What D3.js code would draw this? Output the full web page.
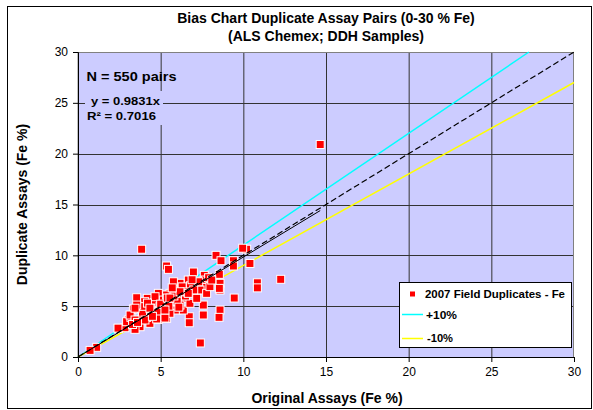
<!DOCTYPE html>
<html><head><meta charset="utf-8">
<script src="https://cdn.jsdelivr.net/npm/d3@7"></script>
<style>body{margin:0;background:#fff}svg{display:block;font-family:"Liberation Sans",Arial,sans-serif}</style>
</head><body>
<svg id="c" width="593" height="410"></svg>
<script>
const xTicks=[0,5,10,15,20,25,30];
const yTicks=[0,5,10,15,20,25,30];
const origAssay=[14.65,3.85,5.36,5.47,8.35,8.65,9.4,9.4,10.2,9.96,10.4,6.98,7.64,7.7,8.19,8.55,8.59,8.59,7.72,7.08,6.67,6.17,6.07,5.56,4.86,4.19,3.55,4.03,4.62,3.35,9.45,7.58,8.59,8.53,7.58,6.73,6.73,7.4,5.36,4.86,3.85,3.75,3.04,2.44,2.84,3.45,1.13,0.73,4.96,5.77,6.37,6.98,7.38,5.97,6.37,5.56,4.56,4.15,5.16,6.17,6.77,7.18,7.78,7.98,6.77,5.77,5.36,4.66,3.95,3.55,2.94,4.35,4.96,4.15,10.85,10.85,12.26,5.0,5.5,6.0,6.5,5.2,4.4,6.8,7.3,7.9,6.3,5.9,4.8,3.9,3.2,4.2,5.8,6.6,7.0,6.1,5.4,3.15,2.42,3.45,4.05,4.35,4.76,5.26,5.56,3.45,5.26,5.77,6.17,6.67,8.09,8.55,3.3,3.6,4.5,5.7,6.9];
const dupAssay=[20.9,10.6,8.95,8.62,10.0,9.47,9.47,8.95,10.6,10.7,9.2,8.36,8.03,7.57,7.57,8.13,7.25,6.59,6.85,7.25,7.57,7.25,6.59,6.26,6.26,5.77,5.83,5.44,5.34,4.72,5.8,5.11,4.62,3.9,4.13,3.96,3.37,1.38,3.8,3.7,3.7,2.98,3.64,2.82,2.88,2.72,0.95,0.65,4.95,5.44,5.77,6.26,6.59,4.62,4.62,4.3,4.3,4.62,5.6,5.11,5.28,5.77,6.26,6.92,6.75,6.75,6.1,5.93,4.95,5.11,3.47,3.31,4.13,3.9,7.3,6.8,7.64,5.2,5.0,5.5,6.0,4.6,4.8,7.0,7.4,7.8,6.9,6.3,4.4,4.2,3.9,5.3,6.0,6.4,6.6,4.9,5.8,4.13,2.84,3.64,3.64,4.8,3.74,3.83,5.8,4.8,4.62,7.4,6.42,6.26,7.57,6.75,3.2,3.4,4.0,6.8,7.6];
const slope=0.9831, r2=0.7016, nPairs=550;
const bandUp=1.1, bandDown=0.9;

const svg=d3.select("#c");
const L=78,R=574,T=52,B=357;
const x=d3.scaleLinear().domain([0,30]).range([L,R]);
const y=d3.scaleLinear().domain([0,30]).range([B,T]);

svg.append("rect").attr("x",7.5).attr("y",6.5).attr("width",584).attr("height",402).attr("fill","#fff").attr("stroke","#000").attr("stroke-width",1);
svg.append("rect").attr("x",L).attr("y",T).attr("width",R-L).attr("height",B-T).attr("fill","#CCCCFF");

const g=svg.append("g");
g.selectAll(".gx").data(xTicks.slice(1,-1)).join("line").attr("x1",d=>x(d)+0.5).attr("x2",d=>x(d)+0.5).attr("y1",T).attr("y2",B).attr("stroke","#333").attr("stroke-width",1);
g.selectAll(".gy").data(yTicks.slice(1,-1)).join("line").attr("y1",d=>Math.round(y(d))+0.5).attr("y2",d=>Math.round(y(d))+0.5).attr("x1",L).attr("x2",R).attr("stroke","#333").attr("stroke-width",1);
svg.append("rect").attr("x",L).attr("y",T+0.5).attr("width",R-L-0.5).attr("height",B-T).attr("fill","none").attr("stroke","#808080");

// annotation box (breaks gridline)
svg.append("rect").attr("x",85).attr("y",91).attr("width",78).attr("height",34).attr("fill","#CCCCFF");

const line=d3.line().x(d=>x(d[0])).y(d=>y(d[1]));
svg.append("path").attr("d",line([[0,0],[30/bandUp,30]])).attr("stroke","#00FFFF").attr("stroke-width",1.5).attr("fill","none");
svg.append("path").attr("d",line([[0,0],[30,30*bandDown]])).attr("stroke","#FFFF00").attr("stroke-width",1.5).attr("fill","none");

const pts=origAssay.map((v,i)=>[v,dupAssay[i]]);
svg.append("g").selectAll("rect").data(pts).join("rect")
 .attr("x",d=>x(d[0])-4).attr("y",d=>y(d[1])-4).attr("width",8).attr("height",8)
 .attr("fill","#FF0000").attr("stroke","#fff").attr("stroke-width",1);

svg.append("path").attr("d",line([[0,0],[30,30]])).attr("stroke","#000").attr("stroke-width",1.2).attr("stroke-dasharray","6,3").attr("fill","none");
const xmax=d3.max(origAssay);
svg.append("path").attr("d",line([[0,0],[xmax,xmax*slope]])).attr("stroke","#000").attr("stroke-width",1).attr("fill","none");

// axes
const ax=svg.append("g").attr("transform",`translate(0,${B})`).call(d3.axisBottom(x).tickValues(xTicks).tickSize(5).tickPadding(5));
const ay=svg.append("g").attr("transform",`translate(${L},0)`).call(d3.axisLeft(y).tickValues(yTicks).tickSize(5).tickPadding(5));
[ax,ay].forEach(a=>{a.select(".domain").attr("stroke","#000");a.selectAll("text").attr("font-size",12).attr("fill","#000").attr("font-family","Liberation Sans, Arial, sans-serif");a.selectAll("line").attr("stroke","#000");});

function txt(xp,yp,s,size,len,anchor){
  const t=svg.append("text").attr("x",xp).attr("y",yp).attr("font-size",size).attr("font-weight","bold").attr("text-anchor",anchor||"start").text(s);
  if(len) t.attr("textLength",len).attr("lengthAdjust","spacingAndGlyphs");
  return t;
}
// titles
txt(326,23,"Bias Chart Duplicate Assay Pairs (0-30 % Fe)",14,null,"middle");
txt(326,41,"(ALS Chemex; DDH Samples)",14,null,"middle");
txt(327,403,"Original Assays (Fe %)",14,null,"middle");
svg.append("text").attr("transform",`translate(27,${(T+B)/2}) rotate(-90)`).attr("text-anchor","middle").attr("font-size",14).attr("font-weight","bold").text("Duplicate Assays (Fe %)");

txt(86.5,81,`N = ${nPairs} pairs`,13,90);
txt(91,105,`y = ${slope}x`,10.5,69);
txt(87,120,`R² = ${r2}`,10.5,69);

// legend
const lg=svg.append("g");
lg.append("rect").attr("x",399.5).attr("y",282.5).attr("width",172).attr("height",65).attr("fill","#fff").attr("stroke","#000");
lg.append("rect").attr("x",410).attr("y",291.5).attr("width",5).attr("height",5).attr("fill","#FF0000");
txt(425,298,"2007 Field Duplicates - Fe",11,140);
lg.append("line").attr("x1",402).attr("x2",423).attr("y1",314.5).attr("y2",314.5).attr("stroke","#00FFFF").attr("stroke-width",1.5);
txt(426,319,"+10%",11,31);
lg.append("line").attr("x1",402).attr("x2",423).attr("y1",338.5).attr("y2",338.5).attr("stroke","#FFFF00").attr("stroke-width",1.5);
txt(427,342,"-10%",11,26);
</script>
</body></html>
